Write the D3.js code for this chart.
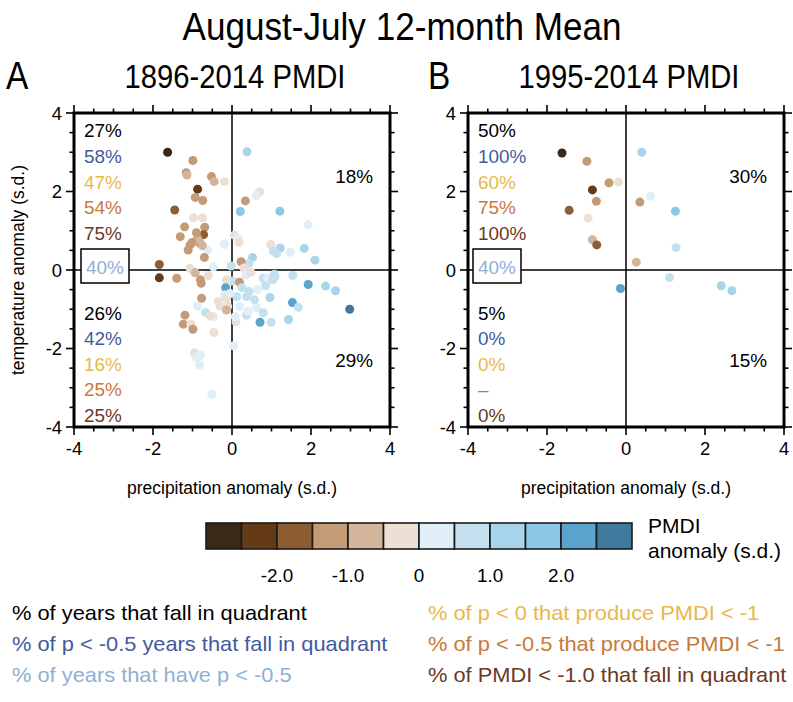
<!DOCTYPE html>
<html><head><meta charset="utf-8">
<script src="https://cdn.jsdelivr.net/npm/d3@7"></script>
<style>
body{margin:0;background:#fff}
text{font-family:"Liberation Sans",Arial,Helvetica,sans-serif}
</style>
</head><body><svg id="c" width="793" height="702"></svg>
<script>
// ---------- data ----------
const axisTicks = [-4, -2, 0, 2, 4];
const minorTicks = d3.range(-4, 4.001, 0.5);
const colorBreaks = [-2.5, -2, -1.5, -1, -0.5, 0, 0.5, 1, 1.5, 2, 2.5];
const colorPalette = ["#3b2918","#653a17","#8e5d33","#c39b76","#d3b59b","#ecdfd3",
                      "#e0eef8","#c3e0ee","#a9d5ec","#8bc7e7","#59a3cc","#3f7a9c"];
const colorbarTickValues = [-2, -1, 0, 1, 2];
const colorbarTickLabels = ["-2.0", "-1.0", "0", "1.0", "2.0"];

// Panel A: 1896-2014 (precip anomaly, temperature anomaly, PMDI anomaly)
const precipA = [
 -1.63,-0.99,-1.16,-1.14,-0.52,-0.45,-0.19,-0.87,-0.93,-0.74,-1.45,-0.97,-0.74,-1.20,-0.69,-1.31,
 -0.72,-0.87,-1.06,-1.11,-0.81,-0.85,-1.01,-0.62,-0.19,-0.70,-0.47,-0.02,-1.84,-1.06,-0.75,-0.90,
 0.38,0.70,0.61,0.34,0.21,1.21,1.93,0.06,0.16,0.18,0.98,1.22,1.13,1.47,1.83,2.10,0.52,0.43,0.23,1.05,0.30,
 0.02,0.19,0.35,0.48,0.79,0.90,1.07,1.03,1.09,1.54,1.93,2.37,2.62,2.98,1.53,1.68,0.96,0.57,0.43,0.37,
 0.12,0.20,0.37,0.41,0.62,0.79,0.71,0.99,1.43,0.10,0.08,0.04,0.25,0.65,0.85,
 -1.84,-1.40,-0.97,-0.93,-0.60,-0.78,-0.80,-0.14,-0.16,-0.19,-0.14,-0.77,-0.87,-0.30,-0.11,-0.14,
 -0.67,-0.47,-0.55,-1.19,-1.23,-1.04,-0.99,-0.46,-0.95,-0.90,-0.80,-0.82,-0.51,-0.05,-0.35];
const tempA = [
 3.00,2.79,2.48,2.42,2.38,2.25,2.25,2.06,1.85,1.77,1.53,1.33,1.33,1.10,1.09,0.85,
 0.90,0.81,0.64,0.51,0.68,0.76,0.70,0.51,0.65,0.32,0.08,0.10,0.14,0.04,0.62,0.95,
 3.01,1.99,1.89,1.76,1.49,1.50,1.15,0.89,0.81,0.70,0.65,0.56,0.42,0.45,0.55,0.25,0.32,0.17,0.21,0.48,0.05,
 -0.28,-0.31,-0.13,-0.06,-0.21,-0.21,-0.11,-0.25,-0.17,-0.14,-0.37,-0.41,-0.53,-1.00,-0.83,-0.95,-0.70,-0.76,-0.55,-0.68,
 -0.68,-0.93,-1.15,-1.06,-0.96,-1.09,-1.33,-1.33,-1.26,-1.32,-1.19,-1.93,-0.45,-0.50,-0.40,
 -0.20,-0.21,-0.04,-0.07,-0.14,-0.34,-0.25,-0.25,-0.45,-0.64,-0.72,-0.72,-0.92,-0.92,-0.93,-1.02,
 -1.08,-1.19,-1.17,-1.15,-1.38,-1.38,-1.51,-1.59,-2.11,-2.23,-2.17,-2.42,-3.17,-0.60,-0.80];
const pmdiA = [
 -2.8,-1.2,-1.2,-0.7,-1.2,-0.7,-0.2,-2.2,-1.2,-1.2,-1.7,-0.2,-0.2,-1.2,-1.2,-1.2,
 -1.7,-1.2,-1.2,-1.2,-1.2,-0.7,-1.2,0.2,0.2,-1.2,0.2,0.7,-1.7,-0.2,-0.7,-1.2,
 1.2,-0.2,0.2,-1.2,1.7,1.7,0.2,-0.2,0.2,-0.2,-0.2,1.2,0.7,0.2,1.2,1.2,1.2,0.7,-1.2,0.7,-0.2,
 0.7,-1.2,0.2,-0.2,0.7,0.2,0.7,0.7,0.7,0.7,2.2,1.2,1.2,2.8,2.2,0.7,1.2,0.7,0.7,0.7,
 0.7,0.2,0.7,0.2,0.2,0.7,2.2,0.7,1.2,-0.2,0.2,0.2,0.7,0.2,0.7,
 -2.2,-1.2,-0.2,-0.7,-0.2,-1.2,-1.2,-0.2,2.2,0.2,-0.2,-1.2,0.2,-0.2,-0.2,-0.7,
 0.7,0.2,-0.2,-1.2,-1.2,-0.2,-1.2,-0.2,-0.2,0.2,0.2,0.2,0.2,0.2,-0.2];

// Panel B: 1995-2014
const precipB = [-1.62,0.40,-0.99,-0.43,-0.19,-0.85,0.62,-0.75,0.35,-1.44,1.25,-0.96,-0.85,-0.74,1.27,0.26,1.10,-0.14,2.41,2.68];
const tempB   = [2.98,3.00,2.77,2.22,2.24,2.04,1.88,1.75,1.73,1.52,1.50,1.32,0.77,0.64,0.57,0.20,-0.19,-0.47,-0.40,-0.53];
const pmdiB   = [-2.8,1.2,-1.2,-1.2,-0.2,-2.2,0.2,-1.2,-1.2,-1.7,1.7,-0.2,-0.7,-1.7,0.7,-0.7,0.7,2.2,1.2,1.2];

// quadrant statistics
const statsA_upperLeft = ["27%","58%","47%","54%","75%"];
const statsA_lowerLeft = ["26%","42%","16%","25%","25%"];
const statsA_box = "40%";
const statsA_right = ["18%","29%"];
const statsB_upperLeft = ["50%","100%","60%","75%","100%"];
const statsB_lowerLeft = ["5%","0%","0%","\u2013","0%"];
const statsB_box = "40%";
const statsB_right = ["30%","15%"];

const statColors = ["#000000","#3f5b9c","#e8b84a","#c67a3b","#6c3822"];
const boxColor = "#8eb0d6";

const legendLeft = ["% of years that fall in quadrant","% of p < -0.5 years that fall in quadrant","% of years that have p < -0.5"];
const legendLeftColors = ["#000000","#3f5b9c","#8eb0d6"];
const legendRight = ["% of p < 0 that produce PMDI < -1","% of p < -0.5 that produce PMDI < -1","% of PMDI < -1.0 that fall in quadrant"];
const legendRightColors = ["#e8b84a","#c67a3b","#6c3822"];

// ---------- drawing ----------
const svg = d3.select("#c");
const color = d3.scaleThreshold().domain(colorBreaks).range(colorPalette);
const y = d3.scaleLinear().domain([-4, 4]).range([427, 113]);

// text with horizontal stretch factor sx
function stext(parent, xp, yp, size, sx, txt, anchor, fill) {
  return parent.append("text").attr("transform",`translate(${xp},${yp}) scale(${sx},1)`)
    .attr("text-anchor",anchor || "start").attr("font-size",size)
    .attr("fill", fill || "#000").text(txt);
}
stext(svg, 402, 40, 39, 0.9, "August-July 12-month Mean", "middle");

function panel(x, letter, letterX, subtitle, px, py, pm, upper, lower, boxTxt, right, boxOffset) {
  const g = svg.append("g");
  const [x0, x1] = x.range();
  const [y0, y1] = [y(4), y(-4)];

  stext(g, letterX, 89, 38, 0.88, letter, "start");
  stext(g, (x0+x1)/2+3, 88, 34, 0.86, subtitle, "middle");

  // zero lines
  g.append("line").attr("x1",x(0)).attr("x2",x(0)).attr("y1",y0).attr("y2",y1)
    .attr("stroke","#000").attr("stroke-width",1.5);
  g.append("line").attr("x1",x0).attr("x2",x1).attr("y1",y(0)).attr("y2",y(0))
    .attr("stroke","#000").attr("stroke-width",1.5);

  // dots
  g.append("g").selectAll("circle").data(d3.range(px.length)).join("circle")
    .attr("cx", i => x(px[i])).attr("cy", i => y(py[i])).attr("r", 4.5)
    .attr("fill", i => color(pm[i]));

  // ticks
  const tg = g.append("g").attr("stroke","#000").attr("stroke-width",1.6);
  minorTicks.forEach(v => {
    const major = axisTicks.includes(v);
    const L = major ? 8 : 4.5;
    tg.append("line").attr("x1",x(v)).attr("x2",x(v)).attr("y1",y1).attr("y2",y1+L);
    tg.append("line").attr("x1",x(v)).attr("x2",x(v)).attr("y1",y0).attr("y2",y0-L);
    tg.append("line").attr("y1",y(v)).attr("y2",y(v)).attr("x1",x0).attr("x2",x0-L);
    tg.append("line").attr("y1",y(v)).attr("y2",y(v)).attr("x1",x1).attr("x2",x1+L);
  });
  // frame
  g.append("rect").attr("x",x0).attr("y",y0).attr("width",x1-x0).attr("height",y1-y0)
    .attr("fill","none").attr("stroke","#000").attr("stroke-width",3);

  // tick labels
  axisTicks.forEach(v => {
    stext(g, x(v), y1+28, 17.5, 1.05, v, "middle");
    stext(g, x0-12, y(v)+6.5, 17.5, 1.05, v, "end");
  });
  stext(g, (x0+x1)/2, y1+67, 17.5, 1.0, "precipitation anomaly (s.d.)", "middle");

  // stats text
  const tx = x0 + 10;
  upper.forEach((t,i) => stext(g, tx, 137+i*25.8, 17.5, 1.08, t, "start", statColors[i]));
  lower.forEach((t,i) => stext(g, tx, 320+i*25.4, 17.5, 1.08, t, "start", statColors[i]));
  g.append("rect").attr("x",x0+boxOffset).attr("y",249).attr("width",48).attr("height",34)
    .attr("fill","#fff").attr("stroke","#000").attr("stroke-width",1.5);
  stext(g, x0+boxOffset+24, 274, 17.5, 1.08, boxTxt, "middle", boxColor);
  stext(g, x1-17, 183, 17.5, 1.08, right[0], "end");
  stext(g, x1-17, 367, 17.5, 1.08, right[1], "end");
}

const xA = d3.scaleLinear().domain([-4, 4]).range([74, 390]);
const xB = d3.scaleLinear().domain([-4, 4]).range([468, 784]);
panel(xA, "A", 6, "1896-2014 PMDI", precipA, tempA, pmdiA, statsA_upperLeft, statsA_lowerLeft, statsA_box, statsA_right, 7);
panel(xB, "B", 428, "1995-2014 PMDI", precipB, tempB, pmdiB, statsB_upperLeft, statsB_lowerLeft, statsB_box, statsB_right, 5);

svg.append("text").attr("transform","translate(24,270) rotate(-90)").attr("text-anchor","middle")
  .attr("font-size",17.5).text("temperature anomaly (s.d.)");

// colorbar
const cx = d3.scaleLinear().domain([-3, 3]).range([206, 632]);
const bins = d3.range(-3, 3, 0.5);
svg.append("g").selectAll("rect").data(bins).join("rect")
  .attr("x", d => cx(d)).attr("y", 523).attr("width", cx(0.5)-cx(0)).attr("height", 26)
  .attr("fill", d => color(d + 0.25)).attr("stroke","#1a1a1a").attr("stroke-width",1.6);
colorbarTickValues.forEach((v,i) => {
  stext(svg, cx(v), 582, 18, 1.05, colorbarTickLabels[i], "middle");
});
stext(svg, 648, 533, 20, 1.05, "PMDI", "start");
stext(svg, 648, 558, 20, 1.05, "anomaly (s.d.)", "start");

// legend
legendLeft.forEach((t,i) => stext(svg, 12, 620+i*31, 21, 1.04, t, "start", legendLeftColors[i]));
legendRight.forEach((t,i) => stext(svg, 428, 620+i*31, 21, 1.04, t, "start", legendRightColors[i]));
</script>
</body></html>
